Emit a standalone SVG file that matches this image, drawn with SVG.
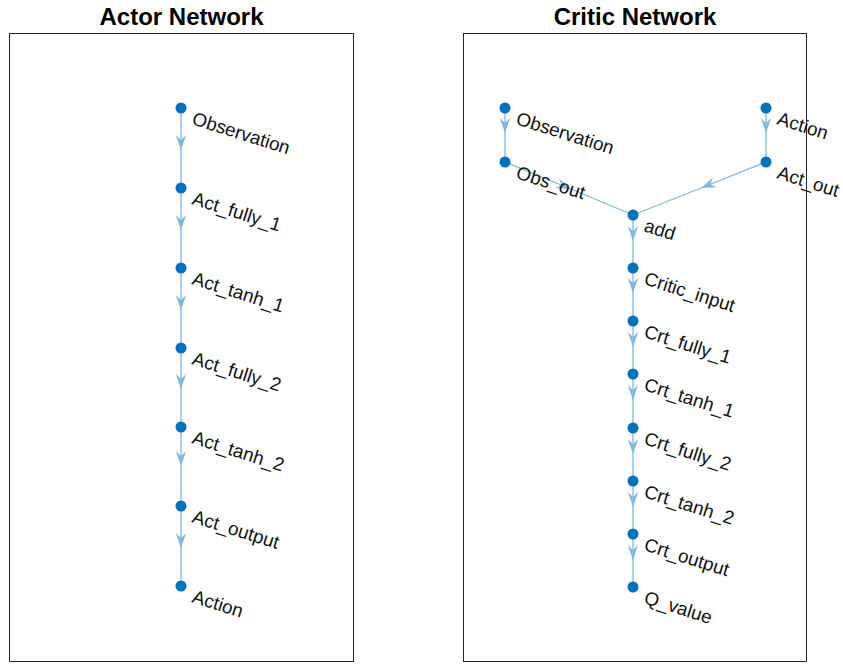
<svg xmlns="http://www.w3.org/2000/svg" width="843" height="664" viewBox="0 0 843 664">
<defs>
<style>
.frame{fill:#fff;stroke:#262626;stroke-width:1}
.title{font-family:"Liberation Sans",Arial,sans-serif;font-weight:bold;font-size:24px;fill:#000;text-anchor:middle}
.edge{fill:none;stroke:#80B9DE;stroke-width:1.3;marker-mid:url(#arr)}
.node circle{fill:#0072BD}
.node text{font-family:"Liberation Sans",Arial,sans-serif;font-size:18.8px;fill:#111}
</style>
<marker id="arr" markerUnits="userSpaceOnUse" viewBox="-16 -8 20 16" markerWidth="20" markerHeight="16" refX="0" refY="0" orient="auto">
<polygon points="0,0 -15,-5.2 -10,0 -15,5.2" fill="#80B9DE"/>
</marker>
</defs>
<rect width="843" height="664" fill="#fff"/>
<rect class="frame" x="9.5" y="33.5" width="344" height="628"/>
<rect class="frame" x="463.5" y="33.5" width="343" height="628"/>
<text class="title" x="181.5" y="25">Actor Network</text>
<text class="title" x="635" y="25">Critic Network</text>
<g id="connectors">
<path class="edge" d="M181,108 L181,150 L181,188"/>
<path class="edge" d="M181,188 L181,230 L181,268"/>
<path class="edge" d="M181,268 L181,310 L181,348"/>
<path class="edge" d="M181,348 L181,389 L181,427"/>
<path class="edge" d="M181,427 L181,466 L181,506"/>
<path class="edge" d="M181,506 L181,548 L181,586"/>
<path class="edge" d="M505,108 L505,133 L505,162"/>
<path class="edge" d="M766,108 L766,133 L766,162"/>
<path class="edge" d="M505,162 L571,189 L633,215"/>
<path class="edge" d="M766,162 L701,188 L633,215"/>
<path class="edge" d="M633,215 L633,241 L633,268"/>
<path class="edge" d="M633,268 L633,293 L633,321"/>
<path class="edge" d="M633,321 L633,347 L633,374"/>
<path class="edge" d="M633,374 L633,400 L633,428"/>
<path class="edge" d="M633,428 L633,454 L633,481"/>
<path class="edge" d="M633,481 L633,507 L633,534"/>
<path class="edge" d="M633,534 L633,560 L633,587"/>
</g>
<g id="a_observation" class="node"><circle cx="181" cy="108" r="5.5"/><text x="191" y="124" transform="rotate(17.5 191 124)">Observation</text></g>
<g id="a_act_fully_1" class="node"><circle cx="181" cy="188" r="5.5"/><text x="191" y="204" transform="rotate(17.5 191 204)">Act_fully_1</text></g>
<g id="a_act_tanh_1" class="node"><circle cx="181" cy="268" r="5.5"/><text x="191" y="284" transform="rotate(17.5 191 284)">Act_tanh_1</text></g>
<g id="a_act_fully_2" class="node"><circle cx="181" cy="348" r="5.5"/><text x="191" y="364" transform="rotate(17.5 191 364)">Act_fully_2</text></g>
<g id="a_act_tanh_2" class="node"><circle cx="181" cy="427" r="5.5"/><text x="191" y="443" transform="rotate(17.5 191 443)">Act_tanh_2</text></g>
<g id="a_act_output" class="node"><circle cx="181" cy="506" r="5.5"/><text x="191" y="522" transform="rotate(17.5 191 522)">Act_output</text></g>
<g id="a_action" class="node"><circle cx="181" cy="586" r="5.5"/><text x="191" y="602" transform="rotate(17.5 191 602)">Action</text></g>
<g id="c_observation" class="node"><circle cx="505" cy="108" r="5.5"/><text x="515" y="124" transform="rotate(17.5 515 124)">Observation</text></g>
<g id="c_obs_out" class="node"><circle cx="505" cy="162" r="5.5"/><text x="515" y="178" transform="rotate(17.5 515 178)">Obs_out</text></g>
<g id="c_action" class="node"><circle cx="766" cy="108" r="5.5"/><text x="776" y="124" transform="rotate(17.5 776 124)">Action</text></g>
<g id="c_act_out" class="node"><circle cx="766" cy="162" r="5.5"/><text x="776" y="178" transform="rotate(17.5 776 178)">Act_out</text></g>
<g id="c_add" class="node"><circle cx="633" cy="215" r="5.5"/><text x="643" y="231" transform="rotate(17.5 643 231)">add</text></g>
<g id="c_critic_input" class="node"><circle cx="633" cy="268" r="5.5"/><text x="643" y="284" transform="rotate(17.5 643 284)">Critic_input</text></g>
<g id="c_crt_fully_1" class="node"><circle cx="633" cy="321" r="5.5"/><text x="643" y="337" transform="rotate(17.5 643 337)">Crt_fully_1</text></g>
<g id="c_crt_tanh_1" class="node"><circle cx="633" cy="374" r="5.5"/><text x="643" y="390" transform="rotate(17.5 643 390)">Crt_tanh_1</text></g>
<g id="c_crt_fully_2" class="node"><circle cx="633" cy="428" r="5.5"/><text x="643" y="444" transform="rotate(17.5 643 444)">Crt_fully_2</text></g>
<g id="c_crt_tanh_2" class="node"><circle cx="633" cy="481" r="5.5"/><text x="643" y="497" transform="rotate(17.5 643 497)">Crt_tanh_2</text></g>
<g id="c_crt_output" class="node"><circle cx="633" cy="534" r="5.5"/><text x="643" y="550" transform="rotate(17.5 643 550)">Crt_output</text></g>
<g id="c_q_value" class="node"><circle cx="633" cy="587" r="5.5"/><text x="643" y="603" transform="rotate(17.5 643 603)">Q_value</text></g>
</svg>
